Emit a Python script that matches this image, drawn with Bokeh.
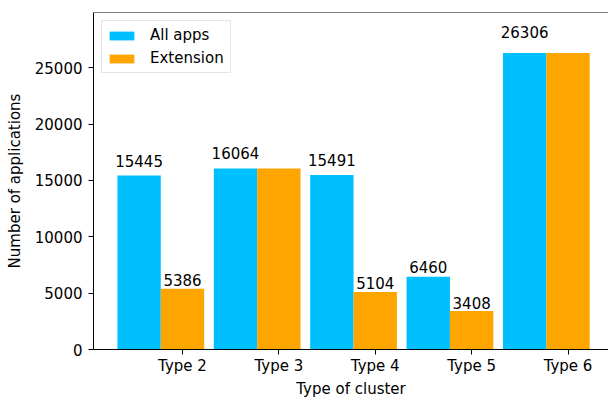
from bokeh.plotting import figure
from bokeh.models import (ColumnDataSource, Range1d, FixedTicker, Legend, LegendItem,
                          Span, NumeralTickFormatter)
from bokeh.core.properties import value
from bokeh.embed import file_html
from bokeh.resources import INLINE

categories = ["Type 2", "Type 3", "Type 4", "Type 5", "Type 6"]
all_apps = [15445, 16064, 15491, 6460, 26306]
extension = [5386, 16064, 5104, 3408, 26306]
y_ticks = [0, 5000, 10000, 15000, 20000, 25000]
Y_MAX = 29900
BAR_W = 0.45
FONT = "DejaVu Sans"
FS = "15px"
BLUE = "#00BFFF"
ORANGE = "#FFA500"

xs = list(range(len(categories)))
src = ColumnDataSource(dict(
    x_all=[i - BAR_W for i in xs], x_ext=xs, all=all_apps, ext=extension))

# labels: all-apps always, extension only where it differs
lab_all = ColumnDataSource(dict(
    x=[i - BAR_W for i in xs], y=[v * 1.05 for v in all_apps], t=[str(v) for v in all_apps]))
ext_idx = [i for i in xs if extension[i] != all_apps[i]]
lab_ext = ColumnDataSource(dict(
    x=[xs[i] for i in ext_idx], y=[extension[i] * 1.05 for i in ext_idx],
    t=[str(extension[i]) for i in ext_idx]))

p = figure(width=608, height=400, output_backend="svg", toolbar_location=None,
           x_range=Range1d(-0.923, 4.42), y_range=Range1d(0, Y_MAX),
           min_border_left=93, min_border_right=0, min_border_top=12, min_border_bottom=49)
p.outline_line_color = None
p.xgrid.visible = False
p.ygrid.visible = False

r_all = p.vbar(x="x_all", top="all", width=BAR_W, fill_color=BLUE, line_color=None, source=src)
r_ext = p.vbar(x="x_ext", top="ext", width=BAR_W, fill_color=ORANGE, line_color=None, source=src)

for s in (lab_all, lab_ext):
    p.text(x="x", y="y", text="t", source=s, text_align="center", text_baseline="bottom",
           text_font=value(FONT), text_font_size=FS, text_color="black")

p.add_layout(Span(location=Y_MAX, dimension="width", line_color="black", line_width=1))

p.xaxis.ticker = FixedTicker(ticks=xs)
p.xaxis.major_label_overrides = {i: c for i, c in zip(xs, categories)}
p.yaxis.ticker = FixedTicker(ticks=y_ticks)
p.yaxis.formatter = NumeralTickFormatter(format="0")
p.xaxis.axis_label = "Type of cluster"
p.yaxis.axis_label = "Number of applications"
for ax in (p.xaxis, p.yaxis):
    ax.axis_line_color = "black"
    ax.axis_line_width = 1
    ax.major_tick_line_color = "black"
    ax.major_tick_out = 5
    ax.major_tick_in = 0
    ax.minor_tick_line_color = None
    ax.major_label_text_font = FONT
    ax.major_label_text_font_size = FS
    ax.major_label_text_color = "black"
    ax.axis_label_text_font = FONT
    ax.axis_label_text_font_size = FS
    ax.axis_label_text_font_style = "normal"
    ax.axis_label_text_color = "black"
p.xaxis.major_label_standoff = 2
p.xaxis.axis_label_standoff = 2
p.yaxis.major_label_standoff = 6
p.yaxis.axis_label_standoff = 8

legend = Legend(items=[LegendItem(label="All apps", renderers=[r_all]),
                       LegendItem(label="Extension", renderers=[r_ext])],
                location="top_left", margin=8, padding=4, spacing=3,
                glyph_width=31, glyph_height=11, label_height=20, label_width=76,
                label_standoff=13,
                label_text_font=FONT, label_text_font_size=FS, label_text_color="black",
                border_line_color="#cccccc", background_fill_alpha=0.8)
p.add_layout(legend)

open("out.html", "w").write(file_html(p, INLINE))
